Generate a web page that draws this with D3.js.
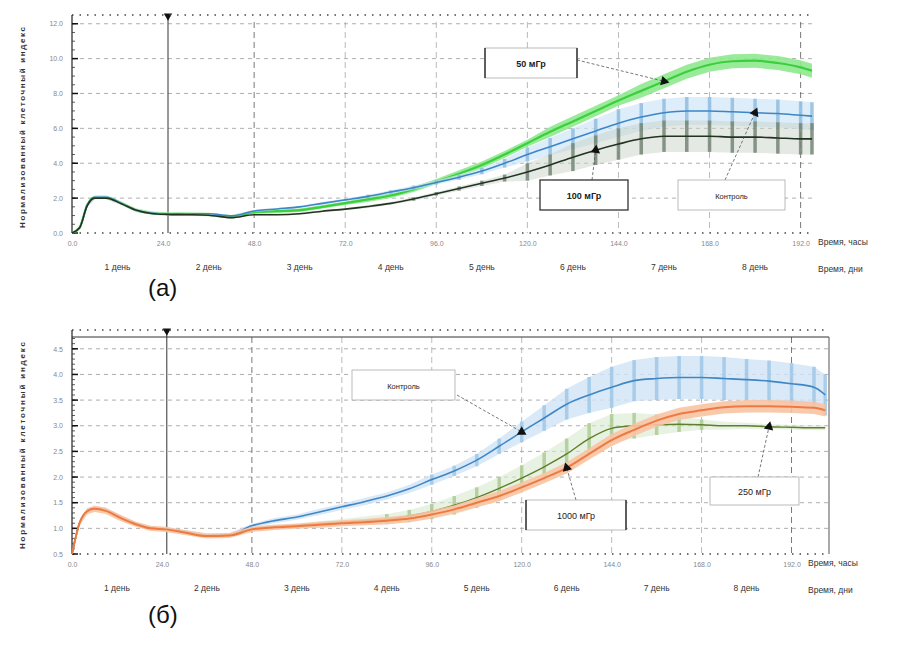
<!DOCTYPE html>
<html>
<head>
<meta charset="utf-8">
<script src="https://cdn.jsdelivr.net/npm/d3@7"></script>
<style>
	body { margin: 0; background: #fff; }
	text { font-family: "Liberation Sans", Arial, sans-serif; }
</style>
</head>
<body>
<script>
// hours of the measurements, panel (а)
var topHours = [0, 2, 4, 6, 9, 13, 17, 21, 25, 30, 36, 42, 48, 54, 60, 66, 72, 78, 84, 90, 96, 102, 108, 114, 120, 126, 132, 138, 144, 150, 156, 162, 168, 174, 180, 186, 192, 195];
var topControl = [0, 0.3, 1.6, 2.05, 2.05, 1.7, 1.3, 1.14, 1.09, 1.1, 1.1, 0.98, 1.26, 1.38, 1.5, 1.7, 1.9, 2.1, 2.35, 2.6, 2.9, 3.2, 3.55, 4.0, 4.5, 4.95, 5.4, 5.85, 6.3, 6.65, 6.9, 7.0, 7.0, 6.95, 6.9, 6.85, 6.75, 6.7];
var topControlErr = [0, 0.05, 0.08, 0.08, 0.08, 0.08, 0.06, 0.06, 0.05, 0.05, 0.05, 0.05, 0.06, 0.06, 0.06, 0.08, 0.08, 0.1, 0.1, 0.12, 0.12, 0.15, 0.18, 0.25, 0.4, 0.5, 0.6, 0.7, 0.8, 0.8, 0.8, 0.8, 0.8, 0.8, 0.8, 0.8, 0.8, 0.8];
var top50 = [0, 0.3, 1.6, 2.05, 2.05, 1.7, 1.3, 1.14, 1.09, 1.09, 1.06, 0.93, 1.2, 1.25, 1.31, 1.5, 1.71, 1.93, 2.15, 2.5, 2.95, 3.4, 3.9, 4.5, 5.15, 5.8, 6.4, 7.0, 7.6, 8.15, 8.7, 9.25, 9.65, 9.85, 9.88, 9.75, 9.5, 9.3];
var top50Err = [0, 0.1, 0.1, 0.1, 0.1, 0.1, 0.1, 0.1, 0.1, 0.1, 0.1, 0.1, 0.1, 0.1, 0.1, 0.1, 0.1, 0.15, 0.15, 0.15, 0.15, 0.2, 0.2, 0.2, 0.2, 0.3, 0.3, 0.3, 0.3, 0.4, 0.4, 0.4, 0.4, 0.4, 0.4, 0.4, 0.4, 0.4];
var top100 = [0, 0.3, 1.55, 2.0, 2.0, 1.68, 1.3, 1.12, 1.07, 1.05, 1.02, 0.88, 1.05, 1.05, 1.1, 1.25, 1.37, 1.52, 1.7, 1.95, 2.25, 2.55, 2.85, 3.15, 3.5, 3.9, 4.35, 4.75, 5.1, 5.4, 5.55, 5.55, 5.55, 5.5, 5.5, 5.45, 5.4, 5.4];
var top100Err = [0, 0.04, 0.06, 0.06, 0.06, 0.06, 0.05, 0.05, 0.05, 0.05, 0.05, 0.05, 0.05, 0.05, 0.06, 0.06, 0.06, 0.08, 0.08, 0.1, 0.1, 0.12, 0.15, 0.2, 0.5, 0.6, 0.8, 0.85, 0.9, 0.9, 0.9, 0.9, 0.9, 0.9, 0.9, 0.9, 0.9, 0.9];

// panel (б)
var botHours = [0, 2, 4, 6, 9, 13, 17, 21, 25, 30, 36, 42, 48, 54, 60, 66, 72, 78, 84, 90, 96, 102, 108, 114, 120, 126, 132, 138, 144, 150, 156, 162, 168, 174, 180, 186, 192, 198, 201];
var botControl = [0.5, 1.1, 1.33, 1.4, 1.36, 1.22, 1.1, 1.01, 0.99, 0.94, 0.87, 0.88, 1.05, 1.15, 1.22, 1.32, 1.42, 1.52, 1.63, 1.77, 1.95, 2.12, 2.33, 2.6, 2.88, 3.15, 3.42, 3.6, 3.75, 3.88, 3.92, 3.94, 3.94, 3.92, 3.9, 3.87, 3.82, 3.75, 3.6];
var botControlErr = [0, 0.03, 0.04, 0.04, 0.04, 0.04, 0.03, 0.03, 0.03, 0.03, 0.03, 0.03, 0.04, 0.05, 0.05, 0.06, 0.06, 0.07, 0.07, 0.08, 0.1, 0.1, 0.12, 0.15, 0.2, 0.25, 0.3, 0.35, 0.4, 0.4, 0.42, 0.42, 0.42, 0.42, 0.4, 0.4, 0.4, 0.4, 0.4];
var bot250 = [0.5, 1.1, 1.33, 1.39, 1.35, 1.21, 1.09, 1.0, 0.98, 0.93, 0.86, 0.87, 0.99, 1.03, 1.06, 1.09, 1.12, 1.15, 1.18, 1.24, 1.33, 1.45, 1.6, 1.78, 1.98, 2.2, 2.45, 2.75, 2.95, 3.0, 3.02, 3.03, 3.02, 3.0, 3.0, 2.98, 2.97, 2.96, 2.96];
var bot250Err = [0, 0.03, 0.03, 0.03, 0.03, 0.03, 0.03, 0.03, 0.03, 0.03, 0.03, 0.03, 0.03, 0.04, 0.04, 0.05, 0.06, 0.08, 0.1, 0.12, 0.15, 0.18, 0.2, 0.22, 0.25, 0.28, 0.3, 0.3, 0.28, 0.25, 0.2, 0.15, 0.1, 0.08, 0.06, 0.05, 0.05, 0.05, 0.05];
var bot1000 = [0.5, 1.1, 1.33, 1.38, 1.34, 1.2, 1.08, 1.0, 0.98, 0.92, 0.85, 0.86, 0.98, 1.02, 1.04, 1.07, 1.1, 1.12, 1.15, 1.19, 1.27, 1.37, 1.5, 1.63, 1.8, 1.98, 2.18, 2.45, 2.72, 2.92, 3.1, 3.23, 3.3, 3.36, 3.38, 3.38, 3.37, 3.35, 3.3];
var bot1000Err = [0, 0.05, 0.06, 0.06, 0.06, 0.06, 0.05, 0.05, 0.05, 0.05, 0.05, 0.05, 0.05, 0.05, 0.05, 0.06, 0.06, 0.06, 0.07, 0.07, 0.08, 0.08, 0.09, 0.1, 0.1, 0.1, 0.11, 0.11, 0.12, 0.12, 0.12, 0.12, 0.12, 0.12, 0.12, 0.12, 0.12, 0.12, 0.12];

var hourTicks = [0, 24, 48, 72, 96, 120, 144, 168, 192];
var dayLabels = ["1 день", "2 день", "3 день", "4 день", "5 день", "6 день", "7 день", "8 день"];
var topYTicks = [0, 2, 4, 6, 8, 10, 12];
var botYTicks = [0.5, 1.0, 1.5, 2.0, 2.5, 3.0, 3.5, 4.0, 4.5];
var normHour = 25.3;

var svg = d3.select("body")
	.append("svg")
	.attr("width", 904)
	.attr("height", 651);

function drawPanel(p) {
	var x = d3.scaleLinear().domain(p.xDomain).range([p.left, p.right]);
	var y = d3.scaleLinear().domain(p.yDomain).range([p.bottom, p.top]);
	var g = svg.append("g");

	// horizontal grid
	g.selectAll(".hgrid")
		.data(p.yTicks.filter(function(d) { return d > p.yDomain[0]; }))
		.enter().append("line")
		.attr("x1", p.left).attr("x2", p.right)
		.attr("y1", function(d) { return y(d); })
		.attr("y2", function(d) { return y(d); })
		.attr("stroke", "#9a9a9a")
		.attr("stroke-width", 0.8)
		.attr("stroke-dasharray", "4,4");

	// vertical grid
	g.selectAll(".vgrid")
		.data(hourTicks.filter(function(d) { return d > 24; }))
		.enter().append("line")
		.attr("x1", function(d) { return x(d); })
		.attr("x2", function(d) { return x(d); })
		.attr("y1", p.top).attr("y2", p.bottom)
		.attr("stroke", function(d) { return (d == 48 || d == 192) ? "#555" : "#aaa"; })
		.attr("stroke-width", 0.8)
		.attr("stroke-dasharray", "6,4");

	// normalization line and its marker
	g.append("line")
		.attr("x1", x(normHour)).attr("x2", x(normHour))
		.attr("y1", p.top - 8).attr("y2", p.bottom)
		.attr("stroke", "#333").attr("stroke-width", 1);
	g.append("path")
		.attr("d", d3.symbol().type(d3.symbolTriangle).size(30))
		.attr("transform", "translate(" + x(normHour) + "," + (p.top - 6) + ") rotate(180)")
		.attr("fill", "#111");

	// top and bottom dotted rows
	[p.top - 7, p.bottom].forEach(function(yy) {
		g.append("line")
			.attr("x1", p.left).attr("x2", p.right)
			.attr("y1", yy).attr("y2", yy)
			.attr("stroke", "#444")
			.attr("stroke-width", 1.5)
			.attr("stroke-dasharray", "1.5,6");
	});

	if (p.framed) {
		g.append("line").attr("x1", p.left).attr("x2", p.right)
			.attr("y1", p.top).attr("y2", p.top).attr("stroke", "#333");
		g.append("line").attr("x1", p.right).attr("x2", p.right)
			.attr("y1", p.top).attr("y2", p.bottom).attr("stroke", "#555");
	}

	// left axis with minor ticks
	g.append("line").attr("x1", p.left).attr("x2", p.left)
		.attr("y1", p.top - 7).attr("y2", p.bottom).attr("stroke", "#222").attr("stroke-width", 1.2);
	var minor = d3.range(p.yDomain[0], p.yDomain[1], p.minorStep);
	g.selectAll(".minor")
		.data(minor)
		.enter().append("line")
		.attr("x1", p.left).attr("x2", p.left + 3)
		.attr("y1", function(d) { return y(d); })
		.attr("y2", function(d) { return y(d); })
		.attr("stroke", "#333").attr("stroke-width", 0.8);
	g.selectAll(".major")
		.data(p.yTicks)
		.enter().append("line")
		.attr("x1", p.left).attr("x2", p.left + 6)
		.attr("y1", function(d) { return y(d); })
		.attr("y2", function(d) { return y(d); })
		.attr("stroke", "#111").attr("stroke-width", 1.5);

	// y labels
	var yAxis = g.append("g")
		.attr("transform", "translate(" + (p.left - 6) + ",0)")
		.call(d3.axisLeft(y).tickValues(p.yTicks).tickFormat(d3.format(".1f")).tickSize(0));
	yAxis.select(".domain").remove();
	yAxis.selectAll("text").attr("font-size", 7).attr("fill", "#888");

	// x labels
	var xAxis = g.append("g")
		.attr("transform", "translate(0," + (p.bottom + 5) + ")")
		.call(d3.axisBottom(x).tickValues(hourTicks).tickFormat(d3.format(".1f")).tickSize(0));
	xAxis.select(".domain").remove();
	xAxis.selectAll("text").attr("font-size", 7).attr("fill", "#888");

	g.selectAll(".day")
		.data(dayLabels)
		.enter().append("text")
		.attr("x", function(d, i) { return x(i * 24 + 12); })
		.attr("y", p.bottom + 37)
		.attr("text-anchor", "middle")
		.attr("font-size", 8.5)
		.attr("fill", "#333")
		.text(function(d) { return d; });

	g.append("text").attr("x", p.unitX).attr("y", p.bottom + 12)
		.attr("font-size", 8.5).attr("fill", "#333").text("Время, часы");
	g.append("text").attr("x", p.unitX).attr("y", p.bottom + 39)
		.attr("font-size", 8.5).attr("fill", "#333").text("Время, дни");

	g.append("text")
		.attr("transform", "translate(25," + ((p.top + p.bottom) / 2) + ") rotate(-90)")
		.attr("text-anchor", "middle")
		.attr("font-size", 8)
		.attr("font-weight", "bold")
		.attr("fill", "#333")
		.attr("textLength", p.bottom - p.top - 10)
		.attr("lengthAdjust", "spacing")
		.text("Нормализованный клеточный индекс");

	// series
	p.series.forEach(function(s) {
		var pts = s.values.map(function(v, i) { return {h: p.hours[i], v: v, e: s.err[i]}; });
		var area = d3.area()
			.x(function(d) { return x(d.h); })
			.y0(function(d) { return y(d.v - d.e); })
			.y1(function(d) { return y(d.v + d.e); });
		g.append("path").datum(pts)
			.attr("d", area)
			.attr("fill", s.band)
			.attr("opacity", s.bandOpacity);
		if (s.bars) {
			g.selectAll(null)
				.data(pts.filter(function(d) { return d.e > 0.09; }))
				.enter().append("line")
				.attr("x1", function(d) { return x(d.h); })
				.attr("x2", function(d) { return x(d.h); })
				.attr("y1", function(d) { return y(d.v - d.e); })
				.attr("y2", function(d) { return y(d.v + d.e); })
				.attr("stroke", s.bars)
				.attr("stroke-width", 3.5)
				.attr("opacity", 0.8);
		}
		var line = d3.line()
			.x(function(d) { return x(d.h); })
			.y(function(d) { return y(d.v); })
			.curve(d3.curveMonotoneX);
		g.append("path").datum(pts)
			.attr("d", line)
			.attr("fill", "none")
			.attr("stroke", s.color)
			.attr("stroke-width", s.width);
	});

	// callout boxes
	p.notes.forEach(function(n) {
		var tipX = x(p.hours[n.idx]);
		var tipY = y(n.series[n.idx]);
		g.append("line")
			.attr("x1", n.from[0]).attr("y1", n.from[1])
			.attr("x2", tipX).attr("y2", tipY)
			.attr("stroke", "#555")
			.attr("stroke-width", 0.8)
			.attr("stroke-dasharray", "3,2");
		var ang = Math.atan2(tipY - n.from[1], tipX - n.from[0]) * 180 / Math.PI + 90;
		g.append("path")
			.attr("d", d3.symbol().type(d3.symbolTriangle).size(40))
			.attr("transform", "translate(" + tipX + "," + tipY + ") rotate(" + ang + ")")
			.attr("fill", "#111");
		g.append("rect")
			.attr("x", n.box[0]).attr("y", n.box[1])
			.attr("width", n.box[2]).attr("height", n.box[3])
			.attr("fill", "#fff")
			.attr("stroke", n.dark ? "#333" : "#aaa")
			.attr("stroke-width", n.dark ? 1.3 : 0.8);
		if (n.bars) {
			[n.box[0], n.box[0] + n.box[2]].forEach(function(bx) {
				g.append("line").attr("x1", bx).attr("x2", bx)
					.attr("y1", n.box[1]).attr("y2", n.box[1] + n.box[3])
					.attr("stroke", "#333").attr("stroke-width", 1.5);
			});
		}
		g.append("text")
			.attr("x", n.box[0] + n.box[2] / 2)
			.attr("y", n.box[1] + n.box[3] / 2 + 3.5)
			.attr("text-anchor", "middle")
			.attr("font-size", n.size)
			.attr("font-weight", n.bold ? "bold" : "normal")
			.attr("fill", "#222")
			.text(n.label);
	});
}

drawPanel({
	left: 72, right: 812, top: 22, bottom: 233, unitX: 818,
	xDomain: [0, 195], yDomain: [0, 12.1],
	yTicks: topYTicks, minorStep: 0.5, framed: false,
	hours: topHours,
	series: [
		{values: top50, err: top50Err, color: "#3ccf3c", width: 2.2, band: "#8ee88e", bandOpacity: 0.9},
		{values: topControl, err: topControlErr, color: "#3a86c8", width: 1.6, band: "#cfe6f6", bandOpacity: 0.7, bars: "#8cbbe0"},
		{values: top100, err: top100Err, color: "#223322", width: 1.6, band: "#c9d3c9", bandOpacity: 0.5, bars: "#6f806f"}
	],
	notes: [
		{label: "50 мГр", series: top50, idx: 30, from: [577, 60], box: [485, 48, 92, 30], size: 9, bold: true, bars: true},
		{label: "100 мГр", series: top100, idx: 27, from: [592, 180], box: [540, 180, 88, 30], size: 9, bold: true, dark: true},
		{label: "Контроль", series: topControl, idx: 34, from: [725, 180], box: [678, 180, 107, 30], size: 7.5}
	]
});

drawPanel({
	left: 72, right: 829, top: 337, bottom: 554, unitX: 808,
	xDomain: [0, 202], yDomain: [0.5, 4.73],
	yTicks: botYTicks, minorStep: 0.1, framed: true,
	hours: botHours,
	series: [
		{values: botControl, err: botControlErr, color: "#3f86c6", width: 1.6, band: "#cfe4f5", bandOpacity: 0.8, bars: "#9cc6e6"},
		{values: bot250, err: bot250Err, color: "#5f7f2a", width: 1.4, band: "#d9ead0", bandOpacity: 0.6, bars: "#a9c98f"},
		{values: bot1000, err: bot1000Err, color: "#ee7a42", width: 2, band: "#f8c3a3", bandOpacity: 0.9}
	],
	notes: [
		{label: "Контроль", series: botControl, idx: 24, from: [457, 395], box: [352, 370, 103, 30], size: 7.5},
		{label: "1000 мГр", series: bot1000, idx: 26, from: [576, 500], box: [526, 500, 100, 30], size: 9, bars: true},
		{label: "250 мГр", series: bot250, idx: 35, from: [758, 477], box: [710, 477, 89, 28], size: 9}
	]
});

svg.append("text").attr("x", 148).attr("y", 296)
	.attr("font-family", "Liberation Serif, Times New Roman, serif")
	.attr("font-size", 24).attr("fill", "#111").text("(а)");
svg.append("text").attr("x", 148).attr("y", 623)
	.attr("font-family", "Liberation Serif, Times New Roman, serif")
	.attr("font-size", 24).attr("fill", "#111").text("(б)");
</script>
</body>
</html>
